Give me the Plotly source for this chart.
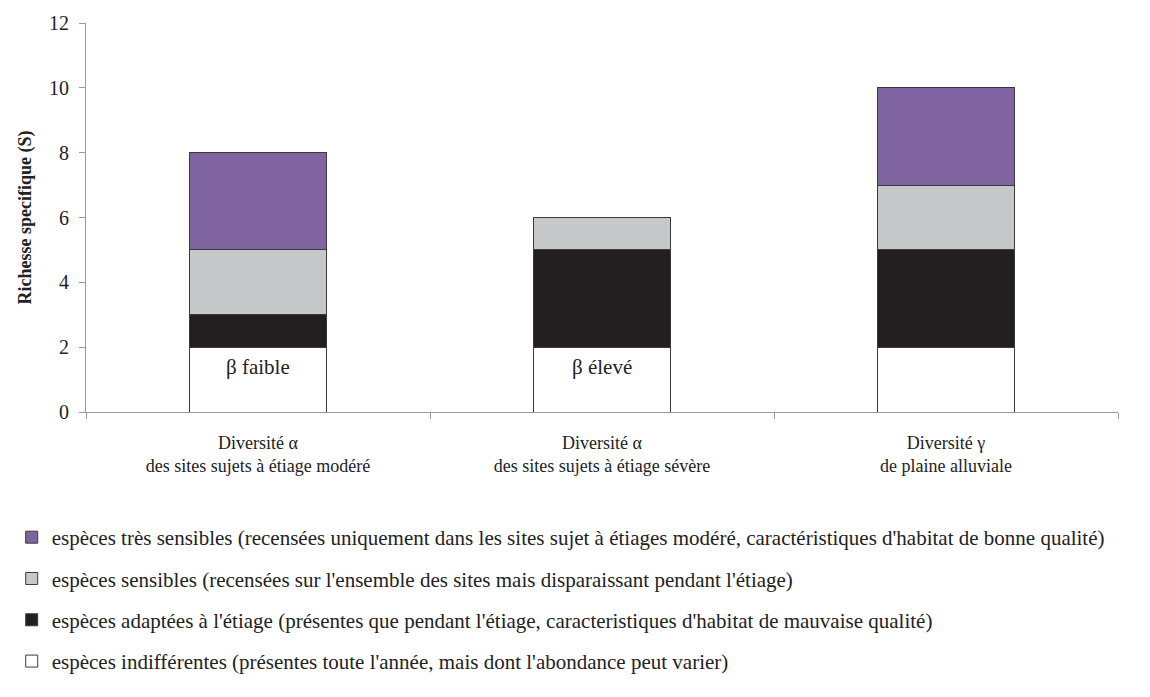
import plotly.graph_objects as go

categories = [
    "Diversité α<br>des sites sujets à étiage modéré",
    "Diversité α<br>des sites sujets à étiage sévère",
    "Diversité γ<br>de plaine alluviale",
]
indifferentes = [2, 2, 2]
adaptees = [1, 3, 3]
sensibles = [2, 1, 2]
tres_sensibles = [3, 0, 3]
beta_labels = ["β faible", "β élevé", ""]

series = [
    ("espèces indifférentes (présentes toute l'année, mais dont l'abondance peut varier)",
     indifferentes, "#FFFFFF"),
    ("espèces adaptées à l'étiage (présentes que pendant l'étiage, caracteristiques d'habitat de mauvaise qualité)",
     adaptees, "#231F20"),
    ("espèces sensibles (recensées sur l'ensemble des sites mais disparaissant pendant l'étiage)",
     sensibles, "#C7C8CA"),
    ("espèces très sensibles (recensées uniquement dans les sites sujet à étiages modéré, caractéristiques d'habitat de bonne qualité)",
     tres_sensibles, "#8064A2"),
]

FONT = "Liberation Serif, Times New Roman, serif"

fig = go.Figure()
n = len(series)
for i, (name, vals, color) in enumerate(series):
    fig.add_trace(go.Bar(
        x=categories, y=vals, name=name,
        marker=dict(color=color, line=dict(color="#3a3a3a", width=1)),
        legendgroup=f"g{i}", legendrank=n - i,
    ))

for cat, lab in zip(categories, beta_labels):
    if lab:
        fig.add_annotation(x=cat, y=1.4, text=lab, showarrow=False,
                           font=dict(family=FONT, size=21, color="#222"))

fig.update_layout(
    barmode="stack",
    bargap=0.6,
    width=1150, height=697,
    margin=dict(l=85, r=32, t=19, b=285),
    paper_bgcolor="white", plot_bgcolor="white",
    font=dict(family=FONT, size=18, color="#222"),
    showlegend=True,
    legend=dict(
        orientation="v", traceorder="grouped", tracegroupgap=11,
        x=-0.072, xanchor="left", y=-0.27, yanchor="top",
        font=dict(family=FONT, size=21, color="#222"),
        bgcolor="rgba(0,0,0,0)",
    ),
    xaxis=dict(
        showline=True, linecolor="#9a9a9a", linewidth=1,
        ticks="outside", tickson="boundaries", ticklen=6, tickcolor="#9a9a9a",
        ticklabelstandoff=14,
        tickfont=dict(family=FONT, size=18, color="#222"),
    ),
    yaxis=dict(
        range=[0, 12], dtick=2, showgrid=False, zeroline=False,
        showline=True, linecolor="#9a9a9a", linewidth=1,
        ticks="outside", ticklen=6, tickcolor="#9a9a9a",
        ticklabelstandoff=6,
        tickfont=dict(family=FONT, size=20, color="#222"),
        title=dict(text="<b>Richesse specifique (S)</b>",
                   font=dict(family=FONT, size=18, color="#222"), standoff=12),
    ),
)

fig.write_html("out.html")
